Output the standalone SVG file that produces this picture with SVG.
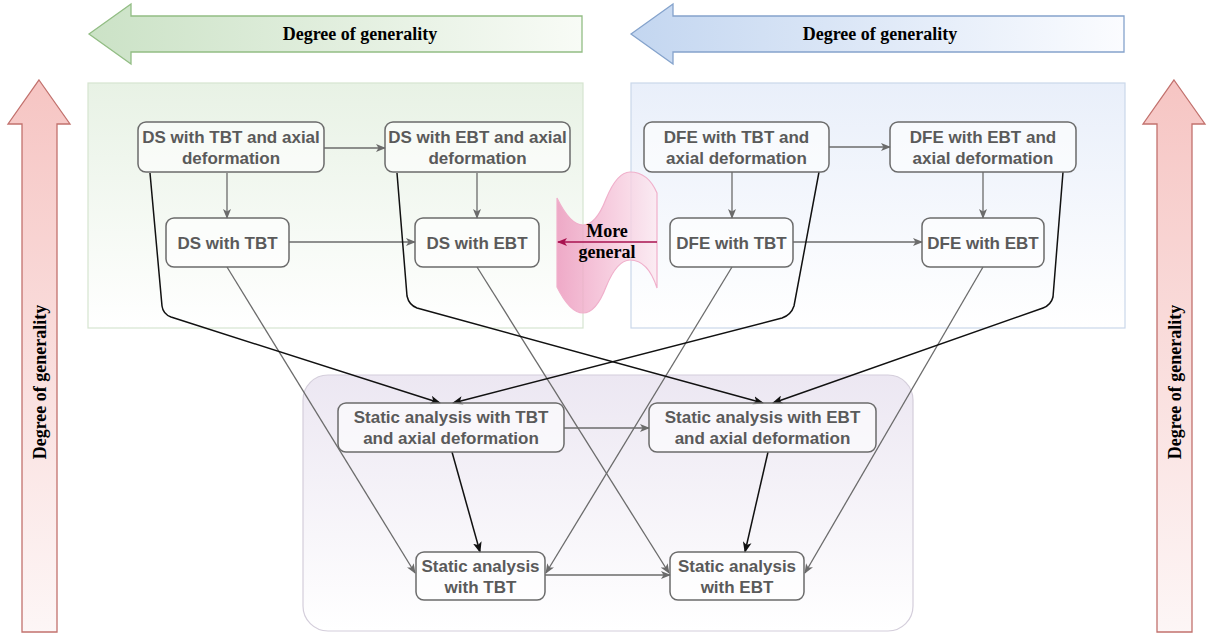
<svg xmlns="http://www.w3.org/2000/svg" width="1210" height="637" viewBox="0 0 1210 637">
<style>
.node rect{fill:#ffffff;fill-opacity:0.6;stroke:#6b6b6b;stroke-width:1.5}
.node text{font-family:"Liberation Sans",Arial,sans-serif;font-weight:bold;font-size:17px;fill:#5a5a5a;text-anchor:middle}
.lbl{font-family:"Liberation Serif","Times New Roman",serif;font-weight:bold;font-size:18px;fill:#000;text-anchor:middle}
.g{fill:none;stroke:#6b6b6b;stroke-width:1.3;marker-end:url(#ag)}
.k{fill:none;stroke:#111;stroke-width:1.5;marker-end:url(#ak)}
</style>
<defs>
<linearGradient id="gBox" x1="0" y1="0" x2="0" y2="1"><stop offset="0" stop-color="#e8f2e5"/><stop offset="1" stop-color="#ffffff"/></linearGradient>
<linearGradient id="bBox" x1="0" y1="0" x2="0" y2="1"><stop offset="0" stop-color="#e9effa"/><stop offset="1" stop-color="#ffffff"/></linearGradient>
<linearGradient id="pBox" x1="0" y1="0" x2="0" y2="1"><stop offset="0" stop-color="#ece7f2"/><stop offset="1" stop-color="#ffffff"/></linearGradient>
<linearGradient id="gArr" x1="0" y1="0" x2="1" y2="0"><stop offset="0" stop-color="#cbe2c6"/><stop offset="1" stop-color="#f8fbf6"/></linearGradient>
<linearGradient id="bArr" x1="0" y1="0" x2="1" y2="0"><stop offset="0" stop-color="#c3d6f0"/><stop offset="1" stop-color="#fbfcff"/></linearGradient>
<linearGradient id="rArr" x1="0" y1="0" x2="0" y2="1"><stop offset="0" stop-color="#f6c5c3"/><stop offset="1" stop-color="#fdf6f6"/></linearGradient>
<linearGradient id="pink" x1="0" y1="0" x2="1" y2="0"><stop offset="0" stop-color="#ec95bb"/><stop offset="1" stop-color="#fce8f0"/></linearGradient>
<marker id="ag" viewBox="0 0 10 8" refX="9" refY="4" markerWidth="10" markerHeight="8" markerUnits="userSpaceOnUse" orient="auto"><path d="M0,0 L10,4 L0,8 L2.5,4 Z" fill="#6b6b6b"/></marker>
<marker id="ak" viewBox="0 0 10 8" refX="9" refY="4" markerWidth="11" markerHeight="9" markerUnits="userSpaceOnUse" orient="auto"><path d="M0,0 L10,4 L0,8 L2.5,4 Z" fill="#111"/></marker>
<marker id="ar" viewBox="0 0 10 8" refX="9" refY="4" markerWidth="10" markerHeight="8" markerUnits="userSpaceOnUse" orient="auto"><path d="M0,0 L10,4 L0,8 L2.5,4 Z" fill="#a8124f"/></marker>
</defs>
<rect width="1210" height="637" fill="#ffffff"/>

<g id="arrow-top-left">
<path d="M89,34 L131,4 L131,16 L582,16 L582,52 L131,52 L131,64 Z" fill="url(#gArr)" stroke="#92bd84" stroke-width="1.3"/>
<text class="lbl" x="360" y="40">Degree of generality</text>
</g>
<g id="arrow-top-right">
<path d="M631,34 L673,4 L673,16 L1124,16 L1124,52 L673,52 L673,64 Z" fill="url(#bArr)" stroke="#85a3cc" stroke-width="1.3"/>
<text class="lbl" x="880" y="40">Degree of generality</text>
</g>
<g id="arrow-left">
<path d="M39,80 L70,124 L57,124 L57,632 L22,632 L22,124 L8,124 Z" fill="url(#rArr)" stroke="#c2716d" stroke-width="1.3"/>
<text class="lbl" transform="translate(46,382) rotate(-90)">Degree of generality</text>
</g>
<g id="arrow-right">
<path d="M1174,80 L1205,124 L1192,124 L1192,632 L1157,632 L1157,124 L1143,124 Z" fill="url(#rArr)" stroke="#c2716d" stroke-width="1.3"/>
<text class="lbl" transform="translate(1181,382) rotate(-90)">Degree of generality</text>
</g>

<g id="group-ds"><rect x="88" y="83" width="495" height="245" fill="url(#gBox)" stroke="#d6e4d0" stroke-width="1.2"/></g>
<g id="group-dfe"><rect x="631" y="83" width="494" height="245" fill="url(#bBox)" stroke="#cad7ea" stroke-width="1.2"/></g>
<g id="group-static"><rect x="303" y="375" width="610" height="256" rx="25" fill="url(#pBox)" stroke="#d4cedb" stroke-width="1.2"/></g>

<g id="more-general">
<path d="M557,198 Q570,225 583,225 Q596,225 606,199 Q617,172 630,172 Q648,172 657,193 L657,288 Q648,260 630,260 Q617,260 606,287 Q596,313 583,313 Q570,313 557,287 Z" fill="url(#pink)" fill-opacity="0.8" stroke="#f0b0cb" stroke-width="1.2"/>
<line x1="657" y1="242" x2="558" y2="242" stroke="#a8124f" stroke-width="1.5" marker-end="url(#ar)"/>
<text class="lbl" x="607" y="237">More</text>
<text class="lbl" x="607" y="258">general</text>
</g>

<g id="connectors">
<path class="g" d="M324,148 L385,148"/>
<path class="g" d="M227,173 L227,218"/>
<path class="g" d="M477,173 L477,218"/>
<path class="g" d="M289,242 L415,242"/>
<path class="g" d="M829,147 L890,147"/>
<path class="g" d="M732,172 L732,218"/>
<path class="g" d="M983,172 L983,218"/>
<path class="g" d="M793,242 L922,242"/>
<path class="g" d="M227,267 L415,573"/>
<path class="g" d="M477,267 L669,573"/>
<path class="g" d="M732,267 L546,573"/>
<path class="g" d="M983,267 L805,573"/>
<path class="g" d="M564,428 L649,428"/>
<path class="g" d="M545,575 L670,575"/>
<path class="k" d="M150,173 L162,306 Q163,314 171,317 L440,403"/>
<path class="k" d="M397,173 L407,296 Q409,305 417,308 L763,403"/>
<path class="k" d="M819,172 L794,306 Q791,315 782,318 L453,403"/>
<path class="k" d="M1063,172 L1053,297 Q1051,305 1043,308 L773,403"/>
<path class="k" d="M452,452 L480,552"/>
<path class="k" d="M768,452 L745,552"/>
</g>

<g id="ds-tbt-axial" class="node"><rect x="138" y="122" width="186" height="50" rx="8"/><text x="231" y="142.5">DS with TBT and axial</text><text x="231" y="163.5">deformation</text></g>
<g id="ds-ebt-axial" class="node"><rect x="385" y="122" width="185" height="50" rx="8"/><text x="477.5" y="142.5">DS with EBT and axial</text><text x="477.5" y="163.5">deformation</text></g>
<g id="ds-tbt" class="node"><rect x="166" y="218" width="123" height="49" rx="8"/><text x="227.5" y="248.5">DS with TBT</text></g>
<g id="ds-ebt" class="node"><rect x="415" y="218" width="124" height="49" rx="8"/><text x="477" y="248.5">DS with EBT</text></g>
<g id="dfe-tbt-axial" class="node"><rect x="644" y="122" width="185" height="50" rx="8"/><text x="736.5" y="142.5">DFE with TBT and</text><text x="736.5" y="163.5">axial deformation</text></g>
<g id="dfe-ebt-axial" class="node"><rect x="890" y="122" width="186" height="50" rx="8"/><text x="983" y="142.5">DFE with EBT and</text><text x="983" y="163.5">axial deformation</text></g>
<g id="dfe-tbt" class="node"><rect x="670" y="218" width="123" height="49" rx="8"/><text x="731.5" y="248.5">DFE with TBT</text></g>
<g id="dfe-ebt" class="node"><rect x="922" y="218" width="122" height="49" rx="8"/><text x="983" y="248.5">DFE with EBT</text></g>
<g id="static-tbt-axial" class="node"><rect x="338" y="403" width="226" height="49" rx="8"/><text x="451" y="423">Static analysis with TBT</text><text x="451" y="444">and axial deformation</text></g>
<g id="static-ebt-axial" class="node"><rect x="649" y="403" width="227" height="49" rx="8"/><text x="762.5" y="423">Static analysis with EBT</text><text x="762.5" y="444">and axial deformation</text></g>
<g id="static-tbt" class="node"><rect x="416" y="552" width="129" height="48" rx="8"/><text x="480.5" y="571.5">Static analysis</text><text x="480.5" y="592.5">with TBT</text></g>
<g id="static-ebt" class="node"><rect x="670" y="552" width="134" height="48" rx="8"/><text x="737" y="571.5">Static analysis</text><text x="737" y="592.5">with EBT</text></g>
</svg>
